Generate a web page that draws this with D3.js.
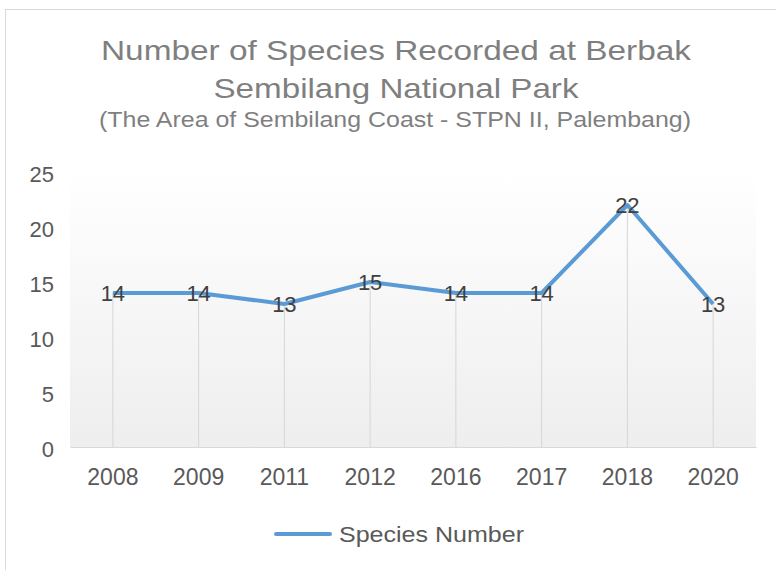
<!DOCTYPE html>
<html>
<head>
<meta charset="utf-8">
<script src="https://cdn.jsdelivr.net/npm/d3@7"></script>
<style>
  html, body { margin: 0; padding: 0; background: #ffffff; }
  svg { display: block; }
  text { font-family: "Liberation Sans", Arial, Helvetica, sans-serif; }
</style>
</head>
<body>
<svg id="chart" width="776" height="570"></svg>
<script>
// Survey years and the number of species recorded in each
const years = ["2008", "2009", "2011", "2012", "2016", "2017", "2018", "2020"];
const speciesCounts = [14, 14, 13, 15, 14, 14, 22, 13];
const yTicks = [0, 5, 10, 15, 20, 25];
const titleLines = ["Number of Species Recorded at Berbak", "Sembilang National Park"];
const subtitle = "(The Area of Sembilang Coast - STPN II, Palembang)";
const seriesName = "Species Number";

const svg = d3.select("#chart");
const W = 776, H = 570;
const plot = { left: 70, right: 756, top: 172, bottom: 447 };
const lineColor = "#5b9bd5";

// Chart frame
svg.append("rect")
  .attr("x", 5.5).attr("y", 9.5)
  .attr("width", W + 10).attr("height", H + 10)
  .attr("fill", "#ffffff").attr("stroke", "#d9d9d9").attr("stroke-width", 1);

// Soft vertical gradient behind the plot
const defs = svg.append("defs");
const grad = defs.append("linearGradient").attr("id", "plotBg")
  .attr("x1", 0).attr("y1", 0).attr("x2", 0).attr("y2", 1);
grad.append("stop").attr("offset", "0%").attr("stop-color", "#ffffff");
grad.append("stop").attr("offset", "100%").attr("stop-color", "#eeeeee");

const x = d3.scaleBand().domain(years).range([plot.left, plot.right]).padding(0);
const y = d3.scaleLinear().domain([0, 25]).range([plot.bottom, plot.top]);

svg.append("rect")
  .attr("x", plot.left).attr("y", y(25))
  .attr("width", plot.right - plot.left).attr("height", plot.bottom - y(25))
  .attr("fill", "url(#plotBg)");

// Titles (stretched to the wide heading face)
const title = svg.append("g").attr("fill", "#7f7f7f").attr("text-anchor", "middle");
const titleWidths = [590, 365];
title.selectAll("text.t").data(titleLines).join("text")
  .attr("class", "t")
  .attr("x", 396).attr("y", (d, i) => 60 + i * 38)
  .attr("font-size", 28)
  .attr("textLength", (d, i) => titleWidths[i])
  .attr("lengthAdjust", "spacingAndGlyphs")
  .text(d => d);
title.append("text")
  .attr("x", 395).attr("y", 127)
  .attr("font-size", 22)
  .attr("textLength", 592)
  .attr("lengthAdjust", "spacingAndGlyphs")
  .text(subtitle);

// Y axis labels (no line, no ticks)
const yAxis = svg.append("g")
  .attr("transform", "translate(54,2)")
  .call(d3.axisLeft(y).tickValues(yTicks).tickSize(0).tickPadding(0));
yAxis.select(".domain").remove();
yAxis.selectAll("text")
  .attr("font-size", 22).attr("fill", "#595959")
  .attr("font-family", "Liberation Sans, Arial, sans-serif");

// X axis with baseline
const xAxis = svg.append("g")
  .attr("transform", `translate(0,${plot.bottom})`)
  .call(d3.axisBottom(x).tickSize(0).tickPadding(22));
xAxis.select(".domain").attr("stroke", "#d9d9d9").attr("stroke-width", 1);
xAxis.selectAll("text")
  .attr("font-size", 23).attr("fill", "#595959")
  .attr("font-family", "Liberation Sans, Arial, sans-serif");

const data = years.map((yr, i) => ({ year: yr, value: speciesCounts[i] }));
const cx = d => x(d.year) + x.bandwidth() / 2;

// Drop lines from each point to the axis
svg.append("g").selectAll("line").data(data).join("line")
  .attr("x1", cx).attr("x2", cx)
  .attr("y1", d => y(d.value)).attr("y2", plot.bottom)
  .attr("stroke", "#d6d6d6").attr("stroke-width", 1);

// Series line
svg.append("path")
  .datum(data)
  .attr("fill", "none")
  .attr("stroke", lineColor)
  .attr("stroke-width", 4)
  .attr("stroke-linejoin", "round")
  .attr("d", d3.line().x(cx).y(d => y(d.value)));

// Value labels centred on the points
svg.append("g").selectAll("text").data(data).join("text")
  .attr("x", cx).attr("y", d => y(d.value) + 8)
  .attr("text-anchor", "middle")
  .attr("font-size", 22).attr("fill", "#404040")
  .text(d => d.value);

// Legend
const legend = svg.append("g");
legend.append("line")
  .attr("x1", 276).attr("x2", 330).attr("y1", 534).attr("y2", 534)
  .attr("stroke", lineColor).attr("stroke-width", 4).attr("stroke-linecap", "round");
legend.append("text")
  .attr("x", 339).attr("y", 542)
  .attr("font-size", 22).attr("fill", "#595959")
  .attr("textLength", 185)
  .attr("lengthAdjust", "spacingAndGlyphs")
  .text(seriesName);
</script>
</body>
</html>
